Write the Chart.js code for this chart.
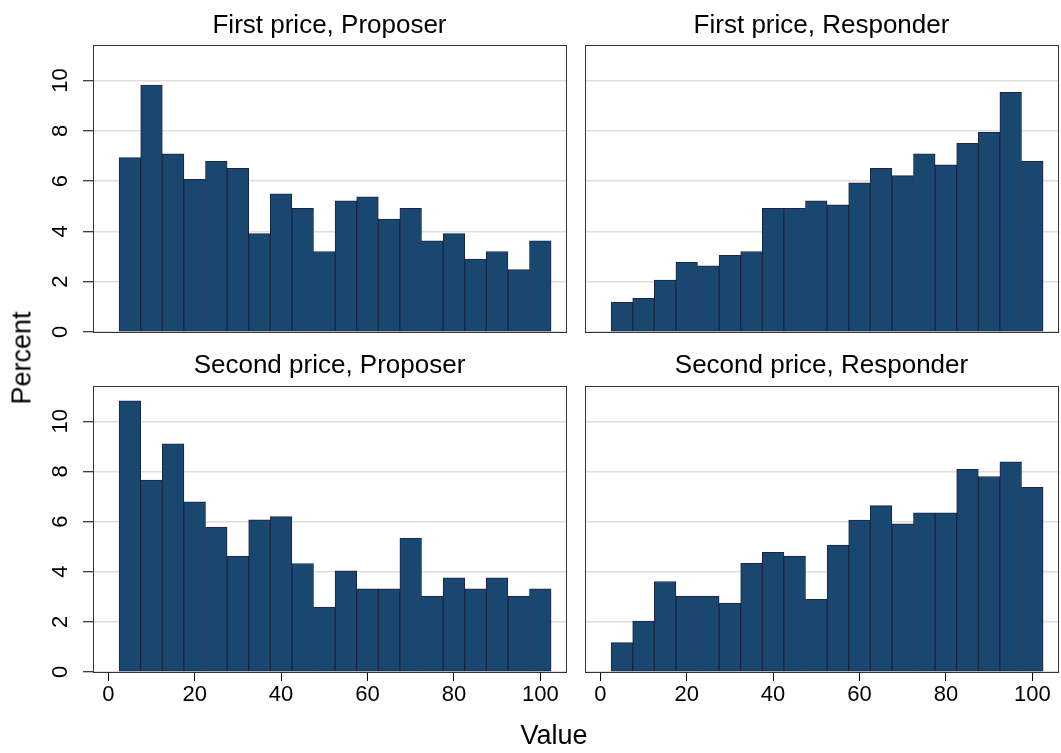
<!DOCTYPE html>
<html>
<head>
<meta charset="utf-8">
<script src="https://cdn.jsdelivr.net/npm/chart.js@4"></script>
<style>
  body { margin: 0; background: #fff; width: 1061px; height: 753px; overflow: hidden; position: relative; font-family: "Liberation Sans", Arial, sans-serif; }
  canvas { position: absolute; }
  .lbl { position: absolute; font-size: 27px; color: #000; white-space: nowrap; transform: translate(-50%, -50%); }
</style>
</head>
<body>
<canvas id="fp" style="left:0;top:0" width="575" height="340"></canvas>
<canvas id="fr" style="left:575px;top:0" width="486" height="340"></canvas>
<canvas id="sp" style="left:0;top:340px" width="575" height="413"></canvas>
<canvas id="sr" style="left:575px;top:340px" width="486" height="413"></canvas>
<div class="lbl" style="left:22px;top:358px;transform:translate(-50%,-50%) rotate(-90deg)">Percent</div>
<div class="lbl" style="left:554px;top:735px">Value</div>

<script>
// bin midpoints (bins of width 5, 2.5 .. 102.5)
const binMids = [5, 10, 15, 20, 25, 30, 35, 40, 45, 50, 55, 60, 65, 70, 75, 80, 85, 90, 95, 100];

// percent in each bin
const firstProposer   = [6.93, 9.82, 7.08, 6.07, 6.79, 6.51, 3.91, 5.49, 4.92, 3.20, 5.21, 5.37, 4.49, 4.92, 3.62, 3.91, 2.90, 3.20, 2.48, 3.62];
const firstResponder  = [1.18, 1.34, 2.06, 2.77, 2.63, 3.05, 3.20, 4.92, 4.92, 5.21, 5.06, 5.93, 6.51, 6.22, 7.08, 6.65, 7.50, 7.94, 9.53, 6.79];
const secondProposer  = [10.82, 7.66, 9.10, 6.79, 5.78, 4.62, 6.07, 6.20, 4.33, 2.59, 4.04, 3.32, 3.32, 5.34, 3.03, 3.76, 3.32, 3.76, 3.03, 3.32];
const secondResponder = [1.17, 2.03, 3.61, 3.03, 3.03, 2.75, 4.34, 4.77, 4.62, 2.90, 5.06, 6.06, 6.64, 5.91, 6.35, 6.35, 8.09, 7.80, 8.38, 7.37];

const xTicks = [0, 20, 40, 60, 80, 100];
const yTicks = [0, 2, 4, 6, 8, 10];

// box round each plot region
const framePlugin = {
  id: "frame",
  afterDatasetsDraw(chart) {
    const a = chart.chartArea;
    const ctx = chart.ctx;
    ctx.save();
    ctx.strokeStyle = "#333";
    ctx.lineWidth = 1;
    ctx.strokeRect(a.left + 0.5, a.top + 0.5, a.width, a.height);
    ctx.restore();
  }
};

function noPad(s) {
  s.paddingLeft = 0; s.paddingRight = 0; s.paddingTop = 0; s.paddingBottom = 0;
}

function makePanel(id, title, values, leftCol, bottomRow) {
  const ctx = document.getElementById(id).getContext("2d");
  return new Chart(ctx, {
    type: "bar",
    data: {
      datasets: [{
        data: binMids.map((m, i) => ({ x: m, y: values[i] })),
        backgroundColor: "#1a476f",
        borderColor: "#1b2646",
        borderWidth: 1,
        borderSkipped: false,
        barPercentage: 1,
        categoryPercentage: 1
      }]
    },
    plugins: [framePlugin],
    options: {
      responsive: false,
      animation: false,
      devicePixelRatio: 1,
      layout: {
        padding: {
          left: 0,
          right: leftCol ? 9 : 3,
          top: 0,
          bottom: bottomRow ? 0 : 8
        }
      },
      plugins: {
        legend: { display: false },
        tooltip: { enabled: false },
        title: {
          display: true,
          text: title,
          fullSize: false,
          color: "#000",
          font: { family: "Liberation Sans", size: 26, weight: "normal" },
          padding: bottomRow ? { top: 10.4, bottom: 4.4 } : { top: 10, bottom: 3.8 }
        }
      },
      scales: {
        x: {
          type: "linear",
          display: bottomRow,
          min: -3.54,
          max: 105.95,
          offset: false,
          afterBuildTicks: s => { s.ticks = xTicks.map(v => ({ value: v })); },
          afterFit: s => { s.height = bottomRow ? 81 : 0; noPad(s); },
          grid: { offset: false, drawOnChartArea: false, tickLength: 9, color: "#000", lineWidth: 1 },
          border: { display: false },
          ticks: {
            color: "#000",
            padding: 1,
            maxRotation: 0,
            font: { family: "Liberation Sans", size: 22 }
          }
        },
        y: {
          min: 0,
          max: 11.41,
          afterBuildTicks: s => { s.ticks = yTicks.map(v => ({ value: v })); },
          afterFit: s => { s.width = leftCol ? 93 : 10; noPad(s); },
          grid: {
            color: "#dedede",
            lineWidth: 1.5,
            tickColor: "#000",
            tickWidth: 1,
            tickLength: 10,
            drawTicks: leftCol
          },
          border: { display: false },
          ticks: {
            display: leftCol,
            color: "#000",
            padding: 10,
            minRotation: 90,
            maxRotation: 90,
            crossAlign: "center",
            font: { family: "Liberation Sans", size: 22 }
          }
        }
      }
    }
  });
}

makePanel("fp", "First price, Proposer", firstProposer, true, false);
makePanel("fr", "First price, Responder", firstResponder, false, false);
makePanel("sp", "Second price, Proposer", secondProposer, true, true);
makePanel("sr", "Second price, Responder", secondResponder, false, true);
</script>
</body>
</html>
